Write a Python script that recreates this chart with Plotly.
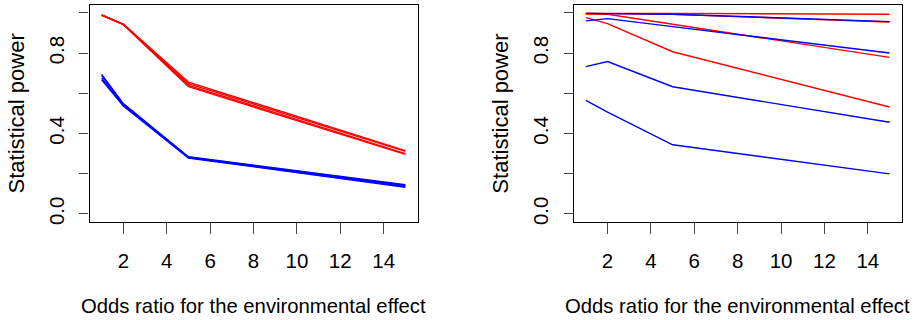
import plotly.graph_objects as go

W, H = 915, 320

odds_ratio = [1, 2, 5, 15]

# Left panel
left_red = [
    [0.991, 0.945, 0.656, 0.315],
    [0.990, 0.944, 0.648, 0.311],
    [0.989, 0.943, 0.640, 0.300],
    [0.988, 0.942, 0.633, 0.296],
]
left_blue = [
    [0.694, 0.549, 0.284, 0.145],
    [0.688, 0.545, 0.282, 0.141],
    [0.676, 0.541, 0.280, 0.136],
    [0.668, 0.537, 0.278, 0.132],
]

# Right panel
right_red = [
    [0.998, 0.998, 0.998, 0.994],
    [0.998, 0.997, 0.993, 0.955],
    [0.995, 0.994, 0.944, 0.779],
    [0.977, 0.947, 0.807, 0.532],
]
right_blue = [
    [0.998, 0.997, 0.994, 0.957],
    [0.961, 0.972, 0.932, 0.801],
    [0.733, 0.758, 0.633, 0.456],
    [0.565, 0.506, 0.344, 0.199],
]

x_ticks = [2, 4, 6, 8, 10, 12, 14]
y_ticks = [0.0, 0.2, 0.4, 0.6, 0.8, 1.0]
y_ticktext = ["0.0", "", "0.4", "", "0.8", ""]

x_title = "Odds ratio for the environmental effect"
y_title = "Statistical power"

FONT = "Liberation Sans, Arial, Helvetica, sans-serif"

fig = go.Figure()

def add_panel(reds, blues, xa, ya):
    for s in reds:
        fig.add_trace(go.Scatter(x=odds_ratio, y=s, mode="lines",
                                 line=dict(color="#ff0000", width=1.4),
                                 xaxis=xa, yaxis=ya, showlegend=False,
                                 hoverinfo="skip"))
    for s in blues:
        fig.add_trace(go.Scatter(x=odds_ratio, y=s, mode="lines",
                                 line=dict(color="#0000ff", width=1.4),
                                 xaxis=xa, yaxis=ya, showlegend=False,
                                 hoverinfo="skip"))

add_panel(left_red, left_blue, "x", "y")
add_panel(right_red, right_blue, "x2", "y2")

# pixel geometry
L1, R1 = 89.5, 417.5
L2, R2 = 573.7, 901.7
TOP, BOT = 5.0, 224.0
ydom = [(H - BOT) / H, (H - TOP) / H]

xcommon = dict(range=[0.44, 15.56], tickvals=x_ticks, ticks="outside",
               ticklen=11, tickcolor="#444444", tickwidth=1.2,
               showline=True, linecolor="black", linewidth=1.2, mirror=True,
               showgrid=False, zeroline=False,
               tickfont=dict(family=FONT, size=20.5, color="black"),
               ticklabelstandoff=9)
ycommon = dict(range=[-0.04, 1.04], tickvals=y_ticks, ticktext=y_ticktext,
               ticks="outside", ticklen=9, tickcolor="#444444", tickwidth=1.2,
               showline=True, linecolor="black", linewidth=1.2, mirror=True,
               showgrid=False, zeroline=False, tickangle=-90,
               tickfont=dict(family=FONT, size=20.5, color="black"),
               ticklabelstandoff=7)

fig.update_layout(
    width=W, height=H,
    margin=dict(l=0, r=0, t=0, b=0),
    paper_bgcolor="white", plot_bgcolor="white",
    xaxis=dict(domain=[L1 / W, R1 / W], anchor="y", **xcommon),
    yaxis=dict(domain=ydom, anchor="x", **ycommon),
    xaxis2=dict(domain=[L2 / W, R2 / W], anchor="y2", **xcommon),
    yaxis2=dict(domain=ydom, anchor="x2", **ycommon),
)

# axis titles as annotations
for (l, r) in [(L1, R1), (L2, R2)]:
    fig.add_annotation(text=x_title, xref="paper", yref="paper",
                       x=((l + r) / 2) / W, y=(H - 309) / H,
                       xanchor="center", yanchor="middle", showarrow=False,
                       font=dict(family=FONT, size=20.3, color="black"))
    fig.add_annotation(text=y_title, xref="paper", yref="paper",
                       x=(l - 73.5) / W, y=(H - (TOP + BOT) / 2) / H,
                       xanchor="center", yanchor="middle", showarrow=False,
                       textangle=-90,
                       font=dict(family=FONT, size=22, color="black"))

fig.write_html("out.html")
